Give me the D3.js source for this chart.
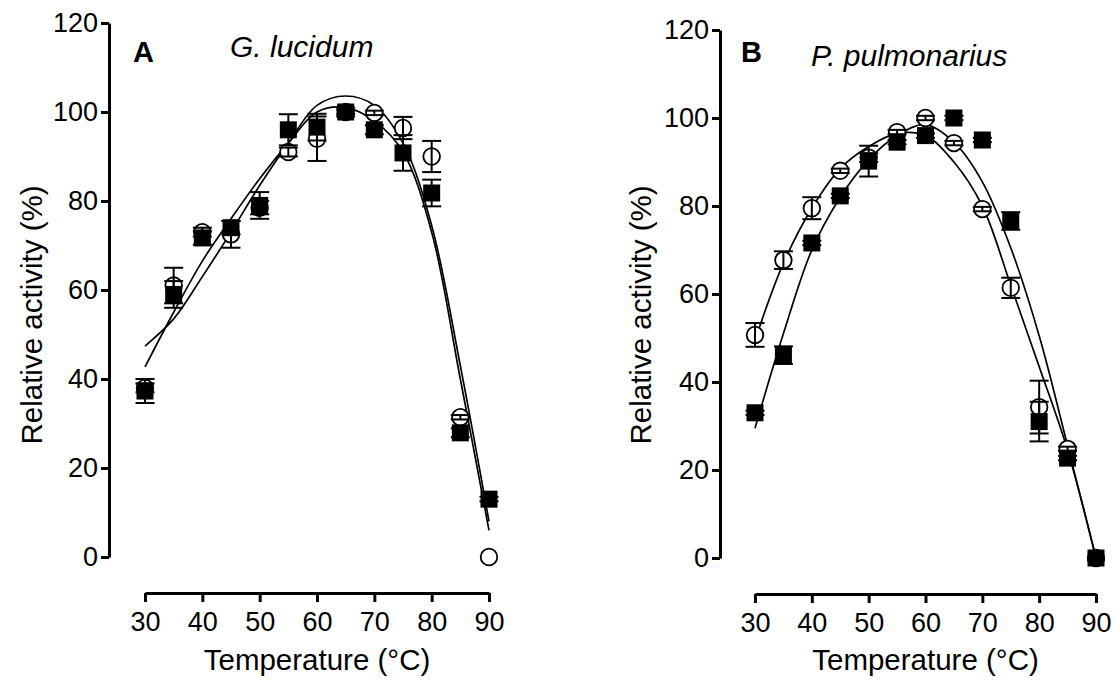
<!DOCTYPE html>
<html>
<head>
<meta charset="utf-8">
<script src="https://cdn.jsdelivr.net/npm/d3@7"></script>
<style>
  body { margin: 0; background: #fff; }
  svg { display: block; }
  text { font-family: Arial, "Liberation Sans", Helvetica, sans-serif; fill: #000; }
</style>
</head>
<body>
<svg id="chart" width="1119" height="686"></svg>
<script>
// temperatures (°C) used by every series
const temps = [30, 35, 40, 45, 50, 55, 60, 65, 70, 75, 80, 85, 90];
const xTicks = [30, 40, 50, 60, 70, 80, 90];
const yTicks = [0, 20, 40, 60, 80, 100, 120];

// A - G. lucidum
const gluOpen      = [38, 61, 73, 72.5, 78.5, 91, 94, 100, 99.8, 96.4, 90, 31.4, 0];
const gluOpenErr   = [1, 4, 1, 3, 1.5, 1, 5, 0.5, 0.5, 2.5, 3.5, 0.5, 0];
const gluFilled    = [37.3, 59, 71.7, 74, 79, 96, 96.6, 100, 96, 90.8, 81.8, 27.9, 13];
const gluFilledErr = [2.7, 3, 1.5, 1.5, 3, 3.5, 3, 1, 1, 4, 3, 1, 0.5];
const gluFit1      = [47.4, 53.5, 63, 73, 83.5, 93, 101.5, 103.6, 101.5, 93, 74.5, 43, 8];
const gluFit2      = [42.7, 55, 66.5, 76, 85, 93, 100, 101, 98, 91, 73, 40, 6];

// B - P. pulmonarius
const ppuOpen      = [50.7, 67.7, 79.5, 88, 91, 96.8, 100, 94.3, 79.3, 61.4, 34.3, 24.8, 0];
const ppuOpenErr   = [2.7, 2, 2.5, 0.5, 1, 0.5, 0.5, 0.5, 0.5, 2.3, 6, 0.5, 0];
const ppuFilled    = [33, 46.1, 71.6, 82.3, 90.2, 94.5, 96, 100, 95, 76.6, 31, 22.7, 0];
const ppuFilledErr = [0.5, 2, 0.5, 0.5, 3.5, 0.5, 0.5, 0.5, 0.5, 2, 4.5, 0.5, 0];
const ppuFit1      = [49.5, 67, 79.5, 88.5, 93.5, 96.5, 96, 90, 80, 62, 43.5, 24.5, 0];
const ppuFit2      = [29.5, 51, 70, 82, 90.5, 96, 98.5, 94.5, 85.5, 70.5, 50.5, 25.5, 0];

const svg = d3.select('#chart');
svg.append('rect').attr('width', 1119).attr('height', 686).attr('fill', '#fff');

const panels = [
    {
        letter: 'A', species: 'G. lucidum',
        xr: [145, 489], yr: [557, 23], yAxisX: 109, xAxisY: 593,
        open: gluOpen, openErr: gluOpenErr, filled: gluFilled, filledErr: gluFilledErr,
        fits: [gluFit1, gluFit2],
        letterPos: [133, 62], speciesPos: [230, 57],
        yTitle: [42, 315]
    },
    {
        letter: 'B', species: 'P. pulmonarius',
        xr: [755, 1096], yr: [558, 30], yAxisX: 720, xAxisY: 594,
        open: ppuOpen, openErr: ppuOpenErr, filled: ppuFilled, filledErr: ppuFilledErr,
        fits: [ppuFit1, ppuFit2],
        letterPos: [741, 62], speciesPos: [811, 66],
        yTitle: [651, 315]
    }
];

function addText(g, x, y, str, size, extra) {
    return g.append('text')
        .attr('transform', `translate(${x},${y})${extra || ''}`)
        .style('font-size', size + 'px')
        .text(str);
}

function drawPanel(p) {
    const g = svg.append('g');

    const x = d3.scaleLinear().domain([30, 90]).range(p.xr);
    const y = d3.scaleLinear().domain([0, 120]).range(p.yr);

    // axes
    const yAxis = d3.axisLeft(y).tickValues(yTicks).tickSize(8).tickSizeOuter(0).tickPadding(3);
    const gy = g.append('g').attr('transform', `translate(${p.yAxisX},0)`).call(yAxis);

    const xAxis = d3.axisBottom(x).tickValues(xTicks).tickSize(9).tickSizeOuter(0).tickPadding(10);
    const gx = g.append('g').attr('transform', `translate(0,${p.xAxisY})`).call(xAxis);

    [gy, gx].forEach(a => {
        a.select('.domain').attr('stroke', '#000').attr('stroke-width', 3);
        a.selectAll('.tick line').attr('stroke', '#000').attr('stroke-width', 3);
        a.selectAll('.tick text').style('font-size', '27px').attr('fill', '#000');
    });

    // fitted curves
    const line = d3.line()
        .x((d, i) => x(temps[i]))
        .y(d => y(d))
        .curve(d3.curveCatmullRom.alpha(0.5));
    p.fits.forEach(f => {
        g.append('path').datum(f)
            .attr('d', line)
            .attr('fill', 'none')
            .attr('stroke', '#000')
            .attr('stroke-width', 1.7);
    });

    // open circles
    g.selectAll('circle.open')
        .data(p.open)
        .enter()
        .append('circle')
        .attr('class', 'open')
        .attr('cx', (d, i) => x(temps[i]))
        .attr('cy', d => y(d))
        .attr('r', 8.3)
        .attr('fill', '#fff')
        .attr('stroke', '#000')
        .attr('stroke-width', 1.8);

    // error bars
    const cap = 9.5;
    const drawErr = (vals, errs) => {
        const eg = g.append('g').attr('stroke', '#000').attr('stroke-width', 2);
        vals.forEach((v, i) => {
            const e = errs[i];
            if (!e) return;
            const cx = x(temps[i]);
            const top = y(v + e), bot = y(v - e);
            eg.append('line').attr('x1', cx).attr('x2', cx).attr('y1', top).attr('y2', bot);
            eg.append('line').attr('x1', cx - cap).attr('x2', cx + cap).attr('y1', top).attr('y2', top);
            eg.append('line').attr('x1', cx - cap).attr('x2', cx + cap).attr('y1', bot).attr('y2', bot);
        });
    };
    drawErr(p.open, p.openErr);
    drawErr(p.filled, p.filledErr);

    // filled squares
    const s = 17;
    g.selectAll('rect.filled')
        .data(p.filled)
        .enter()
        .append('rect')
        .attr('class', 'filled')
        .attr('x', (d, i) => x(temps[i]) - s / 2)
        .attr('y', d => y(d) - s / 2)
        .attr('width', s)
        .attr('height', s)
        .attr('fill', '#000');

    // labels
    addText(g, p.letterPos[0], p.letterPos[1], p.letter, 29).style('font-weight', 'bold');
    addText(g, p.speciesPos[0], p.speciesPos[1], p.species, 30).style('font-style', 'italic');

    addText(g, (p.xr[0] + p.xr[1]) / 2, 670, 'Temperature (°C)', 29.5)
        .attr('text-anchor', 'middle');

    addText(g, p.yTitle[0], p.yTitle[1], 'Relative activity (%)', 29.5, ' rotate(-90)')
        .attr('text-anchor', 'middle');
}

panels.forEach(drawPanel);
</script>
</body>
</html>
